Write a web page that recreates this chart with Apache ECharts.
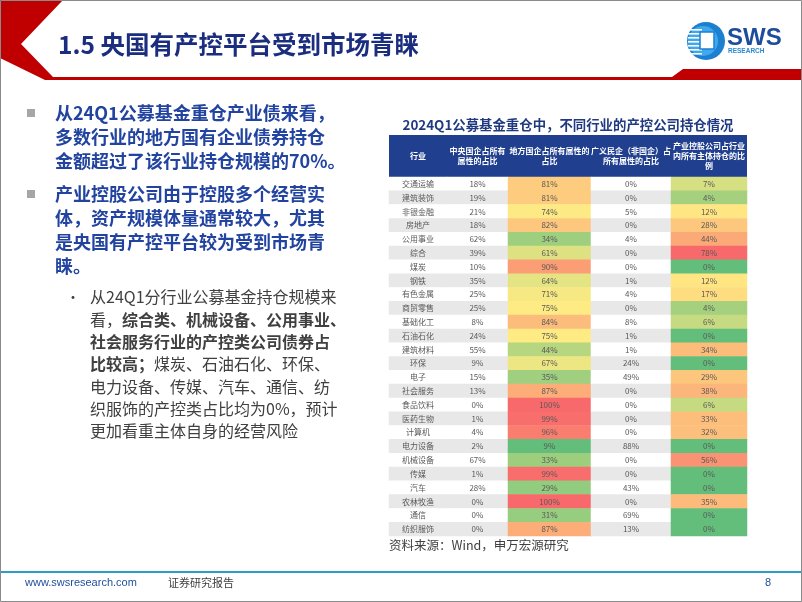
<!DOCTYPE html>
<html><head><meta charset="utf-8">
<script src="https://cdn.jsdelivr.net/npm/echarts@6/dist/echarts.min.js"></script>
<style>html,body{margin:0;padding:0;background:#fff}#c{width:802px;height:602px}</style>
</head><body><div id="c"></div>
<script>
const industries = ['交通运输','建筑装饰','非银金融','房地产','公用事业','综合','煤炭','钢铁','有色金属','商贸零售','基础化工','石油石化','建筑材料','环保','电子','社会服务','食品饮料','医药生物','计算机','电力设备','机械设备','传媒','汽车','农林牧渔','通信','纺织服饰'];
const centralSOE = [18,19,21,18,62,39,10,35,25,25,8,24,55,9,15,13,0,1,4,2,67,1,28,0,0,0];
const localSOE = [81,81,74,82,34,61,90,64,71,75,84,75,44,67,35,87,100,99,96,9,33,99,29,100,31,87];
const privateEnt = [0,0,5,0,4,0,0,1,4,0,8,1,1,24,49,0,0,0,0,88,0,0,43,0,69,13];
const industrialHolding = [7,4,12,28,44,78,0,12,17,4,6,0,34,0,29,38,6,33,32,0,56,0,0,35,0,0];
const headers = ['行业','中央国企占所有\n属性的占比','地方国企占所有属性的\n占比','广义民企（非国企）占\n所有属性的占比','产业控股公司占行业\n内所有主体持仓的比\n例'];
const tableTitle = '2024Q1公募基金重仓中，不同行业的产控公司持仓情况';

const FONT = '"Noto Sans CJK SC","Noto Sans",sans-serif';
const GREEN=[99,190,123], YELLOW=[255,235,132], RED=[248,105,107];
function mix(a,b,t){return 'rgb('+a.map((v,i)=>Math.round(v+(b[i]-v)*t)).join(',')+')';}
function scaleColors(vals){
  const s=[...vals].sort((a,b)=>a-b), n=s.length;
  const mn=s[0], mx=s[n-1];
  const pos=(n-1)*0.5, lo=Math.floor(pos), md=s[lo]+(s[Math.ceil(pos)]-s[lo])*(pos-lo);
  return vals.map(v=>{
    if(v<=md) return mix(GREEN,YELLOW, md===mn?1:(v-mn)/(md-mn));
    return mix(YELLOW,RED,(v-md)/(mx-md));
  });
}
const stripe = r => r%2 ? '#e8e8e8' : '#ffffff';
const columns = [
  {vals: industries.map((_,i)=>i), colors: industries.map((_,i)=>stripe(i)), fmt: p=>industries[p.value[1]]},
  {vals: centralSOE, colors: centralSOE.map((_,i)=>stripe(i)), fmt: p=>p.value[2]+'%'},
  {vals: localSOE, colors: scaleColors(localSOE), fmt: p=>p.value[2]+'%'},
  {vals: privateEnt, colors: privateEnt.map((_,i)=>stripe(i)), fmt: p=>p.value[2]+'%'},
  {vals: industrialHolding, colors: scaleColors(industrialHolding), fmt: p=>p.value[2]+'%'}
];
const colLeft=[389,447,508,591,671], colW=[58,61,83,80,76];
const TOP=177, H=359;
const grids=[], xAxes=[], yAxes=[], series=[];
columns.forEach((c,i)=>{
  grids.push({left:colLeft[i], top:TOP, width:colW[i], height:H});
  const lines = headers[i].split('\n').length;
  xAxes.push({gridIndex:i,type:'category',data:[headers[i]],position:'top',
    axisLine:{show:false},axisTick:{show:false},splitLine:{show:false},
    axisLabel:{interval:0,color:'#fff',fontSize:8,fontWeight:'bold',lineHeight:10,fontFamily:FONT,
      margin: lines===1?16:(lines===2?11.5:6)}});
  yAxes.push({gridIndex:i,type:'category',data:industries,inverse:true,show:false});
  series.push({type:'heatmap',xAxisIndex:i,yAxisIndex:i,
    data:c.vals.map((v,r)=>({value:[0,r,v],itemStyle:{color:c.colors[r]}})),
    label:{show:true,formatter:c.fmt,fontSize:8,color:'#595959',fontFamily:FONT},
    emphasis:{disabled:true}});
});

function txt(x,y,text,size,color,weight,align,family){
  return {type:'text',x:x,y:y,z:10,style:{text:text,fontSize:size,fontFamily:family||FONT,fontWeight:weight||'normal',fill:color,align:align||'left',verticalAlign:'middle'}};
}
const BLUE='#2244a0';
const ARIAL='"Liberation Sans",Arial,sans-serif';
const boldLines=[['从24Q1公募基金重仓产业债来看，',113],['多数行业的地方国有企业债券持仓',137.5],['金额超过了该行业持仓规模的70%。',161],
  ['产业控股公司由于控股多个经营实',194],['体，资产规模体量通常较大，尤其',218],['是央国有产控平台较为受到市场青',242],['睐。',266]];
const rich={n:{fontSize:16,fontFamily:FONT,fill:'#404040'},b:{fontSize:16,fontFamily:FONT,fill:'#404040',fontWeight:'bold'}};
const subLines=[['{n|从24Q1分行业公募基金持仓规模来}',297],['{n|看，}{b|综合类、机械设备、公用事业、}',319.5],['{b|社会服务行业的产控类公司债券占}',342],
  ['{b|比较高；}{n|煤炭、石油石化、环保、}',364],['{n|电力设备、传媒、汽车、通信、纺}',387],['{n|织服饰的产控类占比均为0%，预计}',409],['{n|更加看重主体自身的经营风险}',431]];

const graphic=[
  {type:'polygon',z:5,shape:{points:[[0,0],[63,0],[21,44],[53,77],[672,77],[683,69],[802,69],[802,80],[45,80],[0,58]]},style:{fill:'#c00000'}},
  txt(58,45,'1.5 央国有产控平台受到市场青睐',24.5,'#1a2d7f','bold'),
  // logo
  {type:'circle',z:5,shape:{cx:706,cy:41,r:19},style:{fill:'#1d7fd0'}},
  {type:'circle',z:6,shape:{cx:703,cy:41,r:15},style:{fill:'#3fa9ef'}},
  ...[29,33,37,41,45,49,53].map(y=>({type:'rect',z:7,shape:{x:688,y:y,width:14,height:1.6},style:{fill:'#ffffff'}})),
  {type:'rect',z:8,shape:{x:700,y:32,width:14,height:17},style:{fill:'#ffffff',stroke:'#1d7fd0',lineWidth:1.5}},
  txt(727,38,'SWS',24,'#1d4d9b','bold','left',ARIAL),
  txt(728,51,'RESEARCH',6.5,'#2a8ad0','bold','left',ARIAL),
  // bullets
  {type:'rect',z:5,shape:{x:27,y:109,width:8,height:8},style:{fill:'#a6a6a6'}},
  {type:'rect',z:5,shape:{x:27,y:190,width:8,height:8},style:{fill:'#a6a6a6'}},
  ...boldLines.map(l=>txt(55,l[1],l[0],18,BLUE,'bold')),
  txt(66,297,'•',14,'#404040','normal'),
  ...subLines.map(l=>({type:'text',x:90,y:l[1],z:10,style:{text:l[0],rich:rich,fontSize:16,fontFamily:FONT,fill:'#404040',verticalAlign:'middle'}})),
  // table
  txt(568,125,tableTitle,13.4,'#1f3a80','bold','center'),
  {type:'rect',z:-100,shape:{x:389,y:135,width:358,height:42},style:{fill:'#203f8f'}},
  txt(389,545,'资料来源：Wind，申万宏源研究',12.5,'#404040','normal'),
  // footer
  {type:'rect',z:5,shape:{x:0,y:571,width:802,height:2},style:{fill:'#2b9dc6'}},
  txt(25,583,'www.swsresearch.com',11,'#1f4e9c','normal','left',ARIAL),
  txt(168,583,'证券研究报告',11,'#404040','normal'),
  txt(765,583,'8',11,'#1f4e9c','normal','left',ARIAL),
  {type:'rect',z:20,shape:{x:0.5,y:0.5,width:801,height:601},style:{fill:'none',stroke:'#8a8a8a',lineWidth:1}}
];

const chart=echarts.init(document.getElementById('c'),null,{renderer:'canvas'});
chart.setOption({animation:false,backgroundColor:'#fff',grid:grids,xAxis:xAxes,yAxis:yAxes,series:series,graphic:graphic});
</script></body></html>
